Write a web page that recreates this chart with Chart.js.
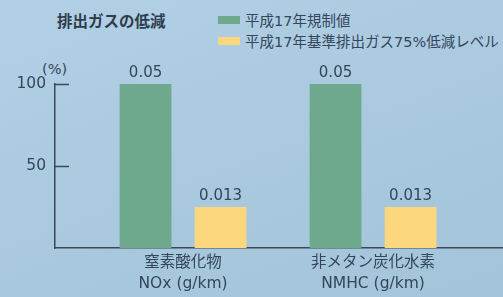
<!DOCTYPE html>
<html>
<head>
<meta charset="utf-8">
<script src="https://cdn.jsdelivr.net/npm/chart.js@4/dist/chart.umd.min.js"></script>
<style>
  html, body { margin: 0; padding: 0; }
  body { width: 503px; height: 297px; overflow: hidden; }
  #wrap {
    position: relative; width: 503px; height: 297px;
    background: linear-gradient(160deg, #b2d0e5 0%, #a8c8de 60%, #a4c4da 100%);
    font-family: "DejaVu Sans", "Noto Sans CJK JP", sans-serif;
    color: #34465a;
  }
  #c { position: absolute; left: 0; top: 0; }
  #title {
    position: absolute; left: 57px; top: 9px;
    font-family: "Noto Sans CJK JP", sans-serif;
    font-size: 15.5px; font-weight: bold; line-height: 22px; color: #2e3d4c;
  }
  #legend { position: absolute; left: 218px; top: 9px; margin: 0; padding: 0; list-style: none; }
  #legend li { display: flex; align-items: center; height: 21px; font-size: 14.5px; white-space: nowrap; }
  #legend span.box { display: inline-block; width: 22px; height: 8px; margin-right: 5px; }
  #unit { position: absolute; left: 42px; top: 60px; font-size: 14.5px; line-height: 18px; }
</style>
</head>
<body>
<div id="wrap">
  <div id="title">排出ガスの低減</div>
  <ul id="legend"></ul>
  <div id="unit">(%)</div>
  <canvas id="c" width="503" height="297"></canvas>
</div>
<script>
  // categories (two-line axis labels) and series
  var categories = [["窒素酸化物", "NOx (g/km)"], ["非メタン炭化水素", "NMHC (g/km)"]];
  var seriesNames = ["平成17年規制値", "平成17年基準排出ガス75%低減レベル"];
  var regulationValues = [100, 100];
  var reducedValues = [25, 25];
  var regulationLabels = ["0.05", "0.05"];
  var reducedLabels = ["0.013", "0.013"];
  var yTickValues = [50, 100];

  var GREEN = "#6ea88d";
  var YELLOW = "#fdd77d";
  var INK = "#34465a";
  var AXIS = "#3a4858";
  var FONT = "'DejaVu Sans', 'Noto Sans CJK JP', sans-serif";

  function points(values) {
    return values.map(function (v, i) { return { x: i + 1, y: v }; });
  }

  // bar value captions above each bar
  var valueLabelPlugin = {
    id: "valueLabels",
    afterDatasetsDraw: function (chart) {
      var ctx = chart.ctx;
      ctx.save();
      ctx.font = "15px " + FONT;
      ctx.fillStyle = INK;
      ctx.textAlign = "center";
      ctx.textBaseline = "bottom";
      chart.data.datasets.forEach(function (ds, di) {
        chart.getDatasetMeta(di).data.forEach(function (bar, i) {
          ctx.fillText(ds.captions[i], bar.x, bar.y - 3);
        });
      });
      ctx.restore();
    },
  };

  // short tick marks pointing into the plot from the y axis
  var innerTicksPlugin = {
    id: "innerTicks",
    afterDraw: function (chart) {
      var ctx = chart.ctx, y = chart.scales.y, left = chart.chartArea.left;
      ctx.save();
      ctx.strokeStyle = AXIS;
      ctx.lineWidth = 1.5;
      yTickValues.forEach(function (v) {
        var py = Math.round(y.getPixelForValue(v)) + 0.5;
        ctx.beginPath();
        ctx.moveTo(left, py);
        ctx.lineTo(left + 14, py);
        ctx.stroke();
      });
      ctx.restore();
    },
  };

  var chart = new Chart(document.getElementById("c"), {
    type: "bar",
    data: {
      datasets: [
        { label: seriesNames[0], data: points(regulationValues), captions: regulationLabels,
          backgroundColor: GREEN },
        { label: seriesNames[1], data: points(reducedValues), captions: reducedLabels,
          backgroundColor: YELLOW },
      ],
    },
    options: {
      responsive: false,
      animation: false,
      devicePixelRatio: 1,
      layout: { padding: { top: 84, left: 0, right: 0, bottom: 0 } },
      datasets: { bar: { categoryPercentage: 0.79, barPercentage: 0.69 } },
      plugins: { legend: { display: false }, tooltip: { enabled: false } },
      scales: {
        x: {
          type: "linear",
          offset: false,
          min: 0.326,
          max: 2.684,
          afterBuildTicks: function (s) {
            s.ticks = categories.map(function (c, i) { return { value: i + 1 }; });
          },
          afterFit: function (s) { s.height = 49; },
          ticks: {
            autoSkip: false,
            maxRotation: 0,
            padding: 5,
            color: INK,
            font: { family: FONT, size: 15.5, lineHeight: 1.35 },
            callback: function (v) { return categories[v - 1] || ""; },
          },
          grid: { display: true, offset: false, drawOnChartArea: false, drawTicks: false },
          border: { display: true, color: AXIS, width: 1.5 },
        },
        y: {
          min: 0,
          max: 100,
          afterBuildTicks: function (s) {
            s.ticks = yTickValues.map(function (v) { return { value: v }; });
          },
          afterFit: function (s) { s.width = 55; },
          ticks: {
            padding: 9,
            color: INK,
            font: { family: FONT, size: 15.5 },
          },
          grid: { display: true, drawOnChartArea: false, drawTicks: false },
          border: { display: true, color: AXIS, width: 1.5 },
        },
      },
    },
    plugins: [valueLabelPlugin, innerTicksPlugin],
  });

  // html legend built from the chart datasets
  var legend = document.getElementById("legend");
  chart.data.datasets.forEach(function (ds) {
    var li = document.createElement("li");
    var box = document.createElement("span");
    box.className = "box";
    box.style.background = ds.backgroundColor;
    li.appendChild(box);
    li.appendChild(document.createTextNode(ds.label));
    legend.appendChild(li);
  });
</script>
</body>
</html>
